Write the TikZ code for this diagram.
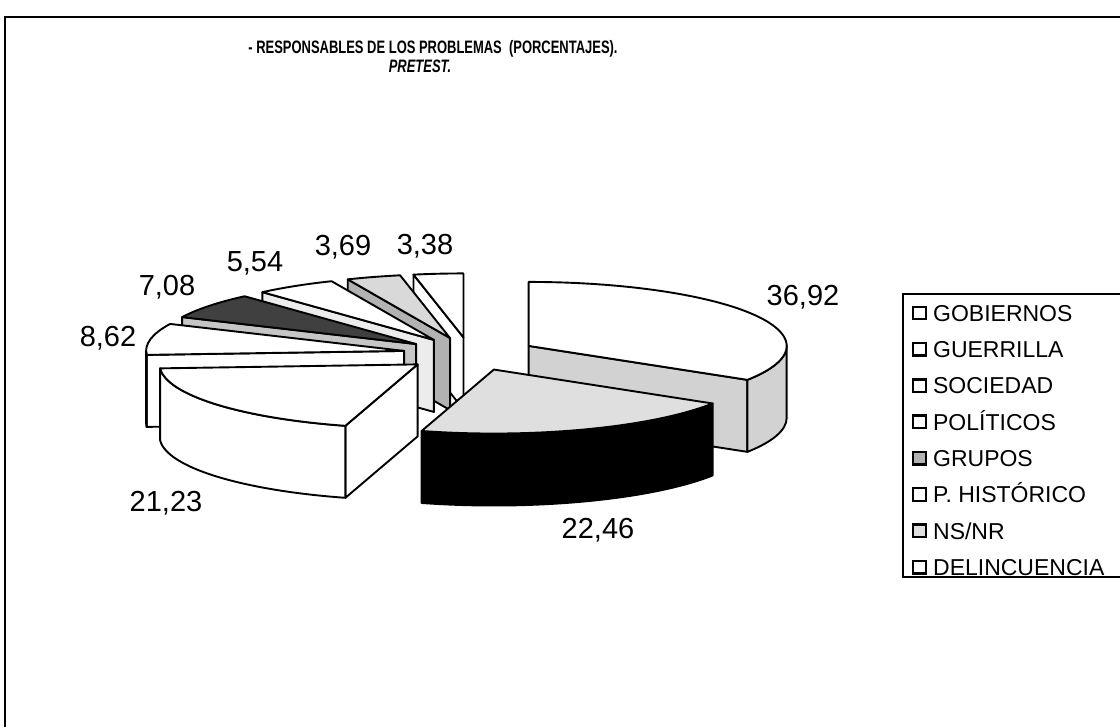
\documentclass[tikz,border=0pt]{standalone}
\usepackage{fontspec}
\setmainfont{Liberation Sans}
\newfontfamily\titlefont[FakeStretch=0.72]{Liberation Sans}
\usetikzlibrary{calc,positioning}
\newcommand\pierx{258}
\newcommand\piery{64}
\newcommand\pieh{72}

\begin{document}
\begin{tikzpicture}[x=1pt, y=1pt,
  slice/.style={draw, line width=1.9pt, line join=round},
  value/.style={font=\fontsize{29}{29}\selectfont, text height=21pt, text depth=0pt, inner sep=0pt},
  entry/.style={font=\fontsize{23}{23}\selectfont, text height=16.5pt, text depth=0pt, inner sep=1pt, anchor=west},
  key/.style={draw, line width=2.4pt, minimum size=12.5pt, inner sep=0pt},
]
  \useasboundingbox (0,0) rectangle (1120,727);
  \draw[line width=1.4pt] (1120,710) -- (5,710) -- (5,0);

  % title
  \node[font=\fontsize{18}{18}\titlefont\bfseries] (title) at (433,678.5)
    {- RESPONSABLES DE LOS PROBLEMAS\ \ (PORCENTAJES).};
  \node[font=\fontsize{18}{18}\titlefont\bfseries\itshape] (subtitle) at (420,660.5) {PRETEST.};

  % pie, back slices first
  \coordinate (c) at (470,373);
  \foreach \n/\ta/\tb/\topfill/\sidefill in {del/101.17/90/white/white,
      nsn/113.37/101.17/gray!30/gray!60, his/131.68/113.37/white/gray!15,
      gru/155.08/131.68/black!75/gray!45, pol/183.57/155.08/white/white} {
    \coordinate (\n) at ($(c)+({(\ta+\tb)/2}:67.08 and 16.64)$);
    \filldraw[slice, fill=\sidefill] (\n) -- ++(\ta:{\pierx} and {\piery}) -- ++(0,-\pieh)
      -- ($(\n)+(0,-\pieh)$) -- cycle;
    \filldraw[slice, fill=\topfill] (\n) -- ++(\tb:{\pierx} and {\piery})
      arc[start angle=\tb, end angle=\ta, x radius=\pierx, y radius=\piery] -- cycle;
  }
  \filldraw[slice, fill=white] ($(pol)+(180:{\pierx} and {\piery})$)
    arc[start angle=180, end angle=183.57, x radius=\pierx, y radius=\piery] -- ++(0,-\pieh)
    arc[start angle=183.57, end angle=180, x radius=\pierx, y radius=\piery] -- cycle;

  % gobiernos
  \coordinate (gob) at ($(c)+(28.99:67.08 and 16.64)$);
  \filldraw[slice, fill=gray!35] (gob) -- ++(-32.03:{\pierx} and {\piery}) -- ++(0,-\pieh)
    -- ($(gob)+(0,-\pieh)$) -- cycle;
  \filldraw[slice, fill=gray!35] ($(gob)+(-32.03:{\pierx} and {\piery})$)
    arc[start angle=-32.03, end angle=0, x radius=\pierx, y radius=\piery] -- ++(0,-\pieh)
    arc[start angle=0, end angle=-32.03, x radius=\pierx, y radius=\piery] -- cycle;
  \filldraw[slice, fill=white] (gob) -- ++(-32.03:{\pierx} and {\piery})
    arc[start angle=-32.03, end angle=90, x radius=\pierx, y radius=\piery] -- cycle;

  % sociedad
  \coordinate (soc) at ($(c)+(-141.35:67.08 and 16.64)$);
  \filldraw[slice, fill=white] (soc) -- ++(-106.26:{\pierx} and {\piery}) -- ++(0,-\pieh)
    -- ($(soc)+(0,-\pieh)$) -- cycle;
  \filldraw[slice, fill=white] ($(soc)+(-176.43:{\pierx} and {\piery})$)
    arc[start angle=-176.43, end angle=-106.26, x radius=\pierx, y radius=\piery] -- ++(0,-\pieh)
    arc[start angle=-106.26, end angle=-176.43, x radius=\pierx, y radius=\piery] -- cycle;
  \filldraw[slice, fill=white] (soc) -- ++(-176.43:{\pierx} and {\piery})
    arc[start angle=-176.43, end angle=-106.26, x radius=\pierx, y radius=\piery] -- cycle;

  % guerrilla
  \coordinate (gue) at ($(c)+(-69.15:67.08 and 16.64)$);
  \filldraw[slice, fill=black] ($(gue)+(-106.26:{\pierx} and {\piery})$)
    arc[start angle=-106.26, end angle=-32.03, x radius=\pierx, y radius=\piery] -- ++(0,-\pieh)
    arc[start angle=-32.03, end angle=-106.26, x radius=\pierx, y radius=\piery] -- cycle;
  \filldraw[slice, fill=gray!25] (gue) -- ++(-106.26:{\pierx} and {\piery})
    arc[start angle=-106.26, end angle=-32.03, x radius=\pierx, y radius=\piery] -- cycle;

  % values
  \node[value] (gobval) at (803,432) {36,92};
  \node[value] (gueval) at (598,199) {22,46};
  \node[value] (socval) at (166,226) {21,23};
  \node[value] (polval) at (108,391) {8,62};
  \node[value] (gruval) at (167,442) {7,08};
  \node[value] (hisval) at (255,466) {5,54};
  \node[value] (nsnval) at (343,482) {3,69};
  \node[value] (delval) at (425,483) {3,38};

  % legend
  \draw[line width=1.4pt] (1120,433) -- (903,433) -- (903,150) -- (1120,150);
  \foreach \t/\f [count=\i] in {GOBIERNOS/white, GUERRILLA/white, SOCIEDAD/white,
      POLÍTICOS/white, GRUPOS/gray!60, P. HISTÓRICO/white, {NS/NR}/gray!25,
      DELINCUENCIA/white} {
    \node[key, fill=\f] (key\i) at (919.5,{414-36.3*(\i-1)}) {};
    \node[entry, right=5pt of key\i] (entry\i) {\t};
  }
\end{tikzpicture}
\end{document}
